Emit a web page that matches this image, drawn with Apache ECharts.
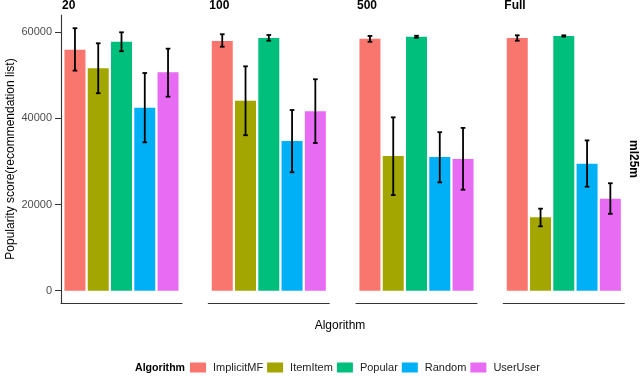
<!DOCTYPE html>
<html>
<head>
<meta charset="utf-8">
<script src="https://cdn.jsdelivr.net/npm/echarts@6/dist/echarts.min.js"></script>
<style>
  html, body { margin: 0; padding: 0; background: #fff; }
  #chart { width: 640px; height: 376px; }
</style>
</head>
<body>
<div id="chart"></div>
<script>
// categories
const algorithms = ['ImplicitMF', 'ItemItem', 'Popular', 'Random', 'UserUser'];
const listSizes = ['20', '100', '500', 'Full'];
const colors = ['#F8766D', '#A3A500', '#00BF7D', '#00B0F6', '#E76BF3'];
const yTicks = [0, 20000, 40000, 60000];

// mean popularity score per algorithm, one array per list size
const score20 = [55950, 51650, 57800, 42500, 50700];
const score100 = [57980, 44100, 58680, 34750, 41650];
const score500 = [58500, 31300, 58980, 31050, 30600];
const scoreFull = [58680, 17050, 59140, 29500, 21350];

// error bar bounds
const low20 = [51100, 45850, 55600, 34450, 45050];
const high20 = [60950, 57450, 60000, 50550, 56200];
const low100 = [56650, 36100, 58050, 27500, 34300];
const high100 = [59550, 52100, 59380, 41950, 49100];
const low500 = [57800, 22200, 58750, 25150, 23450];
const high500 = [59150, 40250, 59200, 36800, 37800];
const lowFull = [58050, 14950, 59000, 24150, 17850];
const highFull = [59300, 19050, 59300, 34900, 24950];

const scores = [score20, score100, score500, scoreFull];
const lows = [low20, low100, low500, lowFull];
const highs = [high20, high100, high500, highFull];

const font = "'Liberation Sans', Arial, Helvetica, sans-serif";
const panelLeft = [61, 208.3, 356, 503.3];
const panelWidth = 121;
const panelTop = 15;
const panelHeight = 288;

const chart = echarts.init(document.getElementById('chart'), null, { renderer: 'canvas' });

const grids = [], xAxes = [], yAxes = [], series = [], graphics = [];

listSizes.forEach((size, p) => {
  grids.push({ left: panelLeft[p], top: panelTop, width: panelWidth, height: panelHeight });
  xAxes.push({
    type: 'value', gridIndex: p, min: -0.6, max: 4.6,
    axisLine: { show: true, onZero: false, lineStyle: { color: '#333', width: 1.1 } },
    axisTick: { show: false }, axisLabel: { show: false }, splitLine: { show: false }
  });
  const first = p === 0;
  yAxes.push({
    type: 'value', gridIndex: p, min: -2856, max: 64017,
    name: first ? 'Popularity score(recommendation list)' : '',
    nameLocation: 'middle', nameRotate: 90, nameGap: 44,
    nameTextStyle: { fontFamily: font, fontSize: 12, color: '#000' },
    axisLine: { show: first, onZero: false, lineStyle: { color: '#333', width: 1.1 } },
    axisTick: { show: first, length: 6, customValues: yTicks, lineStyle: { color: '#333' } },
    axisLabel: {
      show: first, customValues: yTicks, margin: 9, fontFamily: font, fontSize: 11, color: '#4D4D4D',
      formatter: v => String(v)
    },
    splitLine: { show: false }
  });

  series.push({
    type: 'bar', xAxisIndex: p, yAxisIndex: p, barWidth: 21,
    data: scores[p].map((v, i) => ({ value: [i, v], itemStyle: { color: colors[i] } })),
    silent: true
  });

  series.push({
    type: 'custom', xAxisIndex: p, yAxisIndex: p, silent: true, z: 5,
    data: algorithms.map((a, i) => [i, lows[p][i], highs[p][i]]),
    renderItem: (params, api) => {
      const top = api.coord([api.value(0), api.value(2)]);
      const bot = api.coord([api.value(0), api.value(1)]);
      const half = api.size([0.2, 0])[0] / 2;
      const style = { stroke: '#000', lineWidth: 1.8 };
      return {
        type: 'group',
        children: [
          { type: 'line', shape: { x1: top[0], y1: top[1], x2: bot[0], y2: bot[1] }, style },
          { type: 'line', shape: { x1: top[0] - half, y1: top[1], x2: top[0] + half, y2: top[1] }, style },
          { type: 'line', shape: { x1: bot[0] - half, y1: bot[1], x2: bot[0] + half, y2: bot[1] }, style }
        ]
      };
    }
  });

  // facet strip title
  graphics.push({
    type: 'text', left: panelLeft[p] + 1, top: 0,
    style: { text: size, font: 'bold 12px ' + font, fill: '#000' }
  });
});

// dummy series just for the legend
algorithms.forEach((a, i) => {
  series.push({ type: 'line', name: a, xAxisIndex: 0, yAxisIndex: 0, data: [], color: colors[i] });
});

graphics.push({
  type: 'text', x: 633, y: 159, rotation: -Math.PI / 2,
  style: { text: 'ml25m', font: 'bold 12px ' + font, fill: '#000', align: 'center', verticalAlign: 'middle' }
});
graphics.push({
  type: 'text', x: 340, y: 326,
  style: { text: 'Algorithm', font: '12px ' + font, fill: '#000', align: 'center', verticalAlign: 'middle' }
});
graphics.push({
  type: 'text', x: 135, y: 368,
  style: { text: 'Algorithm', font: 'bold 10.6px ' + font, fill: '#000', align: 'left', verticalAlign: 'middle' }
});

chart.setOption({
  animation: false,
  grid: grids,
  xAxis: xAxes,
  yAxis: yAxes,
  legend: {
    data: algorithms, left: 190, top: 362, icon: 'rect',
    itemWidth: 16, itemHeight: 10, itemGap: 4, padding: 0,
    textStyle: { fontFamily: font, fontSize: 11, color: '#222', padding: [0, 0, 0, 2] }
  },
  graphic: graphics,
  series: series
});
</script>
</body>
</html>
